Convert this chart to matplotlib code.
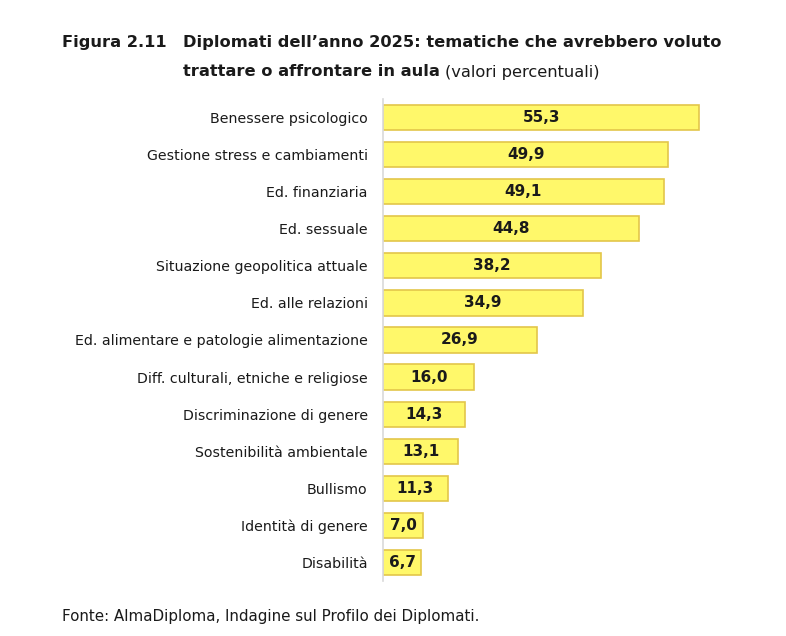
import numpy as np
import matplotlib.pyplot as plt

plt.rcParams['font.family'] = ['DejaVu Sans']

# Data
temi = ['Benessere psicologico',
        'Gestione stress e cambiamenti',
        'Ed. finanziaria',
        'Ed. sessuale',
        'Situazione geopolitica attuale',
        'Ed. alle relazioni',
        'Ed. alimentare e patologie alimentazione',
        'Diff. culturali, etniche e religiose',
        'Discriminazione di genere',
        'Sostenibilità ambientale',
        'Bullismo',
        'Identità di genere',
        'Disabilità']
valori = [55.3, 49.9, 49.1, 44.8, 38.2, 34.9, 26.9, 16.0, 14.3, 13.1, 11.3, 7.0, 6.7]

W, H = 786, 636
fig = plt.figure(figsize=(W/100, H/100), dpi=100)

# axes placed in pixel terms of the reference
x0, x1 = 383, 726
y_top, y_bot = 99, 581
ax = fig.add_axes([x0/W, 1 - y_bot/H, (x1 - x0)/W, (y_bot - y_top)/H])

ypos = np.arange(len(temi))
ax.barh(ypos, valori, height=0.68, color='#FFF86A', edgecolor='#E3C64A',
        linewidth=1.2)
for y, v in zip(ypos, valori):
    ax.text(v/2, y, ('%.1f' % v).replace('.', ','), ha='center', va='center',
            fontsize=11, fontweight='bold', color='#1a1a1a')

ax.set_xlim(0, 60)
ax.set_ylim(len(temi) - 0.5, -0.5)
ax.set_yticks(ypos)
ax.set_yticklabels(temi, fontsize=10.2, color='#1a1a1a')
ax.tick_params(axis='y', length=0, pad=11)
ax.set_xticks([])
for s in ['top', 'right', 'bottom']:
    ax.spines[s].set_visible(False)
ax.spines['left'].set_color('#d9d9d9')
ax.spines['left'].set_linewidth(1.2)

# Title
fig.text(62/W, 1 - 43/H, 'Figura 2.11', fontsize=11.7, fontweight='bold',
         va='center', color='#1a1a1a')
fig.text(183/W, 1 - 43/H, 'Diplomati dell\u2019anno 2025: tematiche che avrebbero voluto',
         fontsize=11.7, fontweight='bold', va='center', color='#1a1a1a')
t2 = fig.text(183/W, 1 - 72/H, 'trattare o affrontare in aula', fontsize=11.7,
              fontweight='bold', va='center', color='#1a1a1a')
r = fig.canvas.get_renderer()
bb = t2.get_window_extent(renderer=r)
fig.text(bb.x1/W + 5/W, 1 - 72/H, '(valori percentuali)', fontsize=11.7,
         va='center', color='#1a1a1a')

# Source
fig.text(62/W, 1 - 617/H, 'Fonte: AlmaDiploma, Indagine sul Profilo dei Diplomati.',
         fontsize=10.9, va='center', color='#1a1a1a')

fig.savefig('out.png', dpi=100)
